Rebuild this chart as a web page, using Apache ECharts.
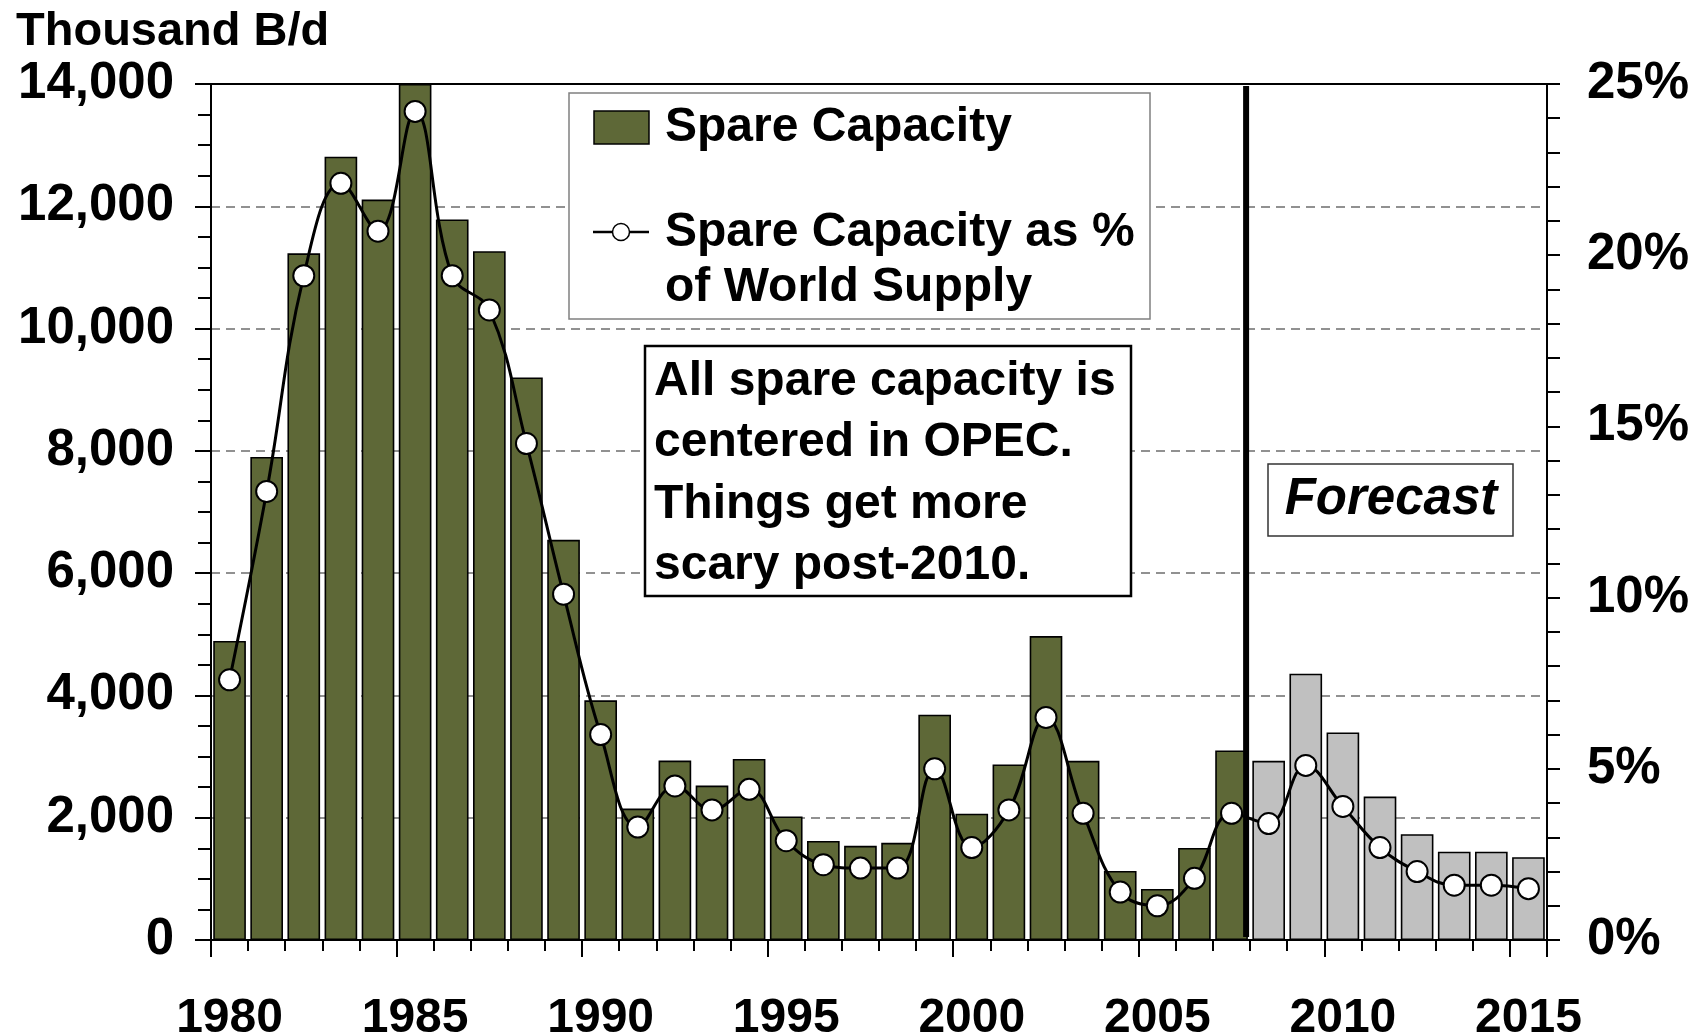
<!DOCTYPE html>
<html>
<head>
<meta charset="utf-8">
<title>Spare Capacity</title>
<script src="https://cdn.jsdelivr.net/npm/echarts@6/dist/echarts.min.js"></script>
<style>
  html, body { margin: 0; padding: 0; background: #fff; }
  #chart { width: 1696px; height: 1033px; }
</style>
</head>
<body>
<div id="chart"></div>
<script>
const years = ['1980', '1981', '1982', '1983', '1984', '1985', '1986', '1987', '1988', '1989',
  '1990', '1991', '1992', '1993', '1994', '1995', '1996', '1997', '1998', '1999',
  '2000', '2001', '2002', '2003', '2004', '2005', '2006', '2007', '2008', '2009',
  '2010', '2011', '2012', '2013', '2014', '2015'];

// thousand barrels per day
const spareCapacity = [4890, 7900, 11230, 12810, 12110, 14000, 11785, 11265, 9200, 6545,
  3920, 2150, 2935, 2525, 2960, 2020, 1620, 1540, 1590, 3685,
  2065, 2870, 4970, 2930, 1130, 835, 1505, 3100, 2930, 4355,
  3395, 2345, 1730, 1445, 1445, 1355];

// spare capacity as % of world supply
const sharePct = [7.6, 13.1, 19.4, 22.1, 20.7, 24.2, 19.4, 18.4, 14.5, 10.1,
  6.0, 3.3, 4.5, 3.8, 4.4, 2.9, 2.2, 2.1, 2.1, 5.0,
  2.7, 3.8, 6.5, 3.7, 1.4, 1.0, 1.8, 3.7, 3.4, 5.1,
  3.9, 2.7, 2.0, 1.6, 1.6, 1.5];

const lastActualYear = '2007';
const leftTicks = { min: 0, max: 14000, step: 2000 };
const rightTicks = { min: 0, max: 25, step: 5 };
const noteLines = ['All spare capacity is', 'centered in OPEC.', 'Things get more', 'scary post-2010.'];

const FONT = '"Liberation Sans", Arial, sans-serif';
const OLIVE = '#5e6837';
const GREY = '#c0c0c0';

const chart = echarts.init(document.getElementById('chart'));

function commas(v) {
  return String(v).replace(/\B(?=(\d{3})+(?!\d))/g, ',');
}

const axisBlack = { color: '#000', width: 2 };

chart.setOption({
  animation: false,
  grid: {
    left: 211, right: 149, top: 84, bottom: 93,
    outerBoundsMode: 'none',
    containLabel: false,
    show: true, borderColor: '#000', borderWidth: 2, backgroundColor: 'transparent'
  },
  xAxis: [
    {
      type: 'category',
      position: 'bottom',
      data: years,
      axisLine: { show: true, lineStyle: axisBlack },
      axisTick: { show: true, interval: 0, length: 11, lineStyle: axisBlack },
      axisLabel: {
        interval: 4, margin: 55, color: '#000',
        fontSize: 48, fontWeight: 'bold', fontFamily: FONT
      },
      splitLine: { show: false }
    },
    {
      // longer ticks every five years
      type: 'category',
      position: 'bottom',
      data: years,
      axisLine: { show: false },
      axisTick: { show: true, interval: 4, length: 17, lineStyle: axisBlack },
      axisLabel: { show: false },
      splitLine: { show: false }
    }
  ],
  yAxis: [
    {
      type: 'value',
      position: 'left',
      min: leftTicks.min, max: leftTicks.max, interval: leftTicks.step,
      axisLine: { show: true, lineStyle: axisBlack },
      axisTick: { show: true, length: 16, lineStyle: axisBlack },
      minorTick: { show: true, splitNumber: 4, length: 13, lineStyle: axisBlack },
      axisLabel: {
        margin: 37, color: '#000', fontSize: 51, fontWeight: 'bold', fontFamily: FONT,
        formatter: commas
      },
      splitLine: {
        show: true, showMinLine: false, showMaxLine: false,
        lineStyle: { color: '#6e6e6e', width: 1.6, type: [9, 6] }
      }
    },
    {
      type: 'value',
      position: 'right',
      min: rightTicks.min, max: rightTicks.max, interval: rightTicks.step,
      axisLine: { show: true, lineStyle: axisBlack },
      axisTick: { show: true, length: 13, lineStyle: axisBlack },
      minorTick: { show: true, splitNumber: 5, length: 13, lineStyle: axisBlack },
      axisLabel: {
        margin: 40, color: '#000', fontSize: 51, fontWeight: 'bold', fontFamily: FONT,
        formatter: '{value}%'
      },
      splitLine: { show: false }
    }
  ],
  series: [
    {
      name: 'Spare Capacity',
      type: 'bar',
      xAxisIndex: 0,
      yAxisIndex: 0,
      barCategoryGap: '12%',
      z: 2,
      data: spareCapacity.map((v, i) => ({
        value: v,
        itemStyle: {
          color: years[i] > lastActualYear ? GREY : OLIVE,
          borderColor: '#000',
          borderWidth: 1.6
        }
      }))
    },
    {
      name: 'Spare Capacity as % of World Supply',
      type: 'line',
      xAxisIndex: 0,
      yAxisIndex: 1,
      smooth: 0.4,
      z: 5,
      symbol: 'circle',
      symbolSize: 21,
      lineStyle: { color: '#000', width: 3 },
      itemStyle: { color: '#fff', borderColor: '#000', borderWidth: 2 },
      data: sharePct
    }
  ]
});

// forecast divider sits on the boundary between the last actual year and the first forecast
const xLast = chart.convertToPixel({ xAxisIndex: 0 }, lastActualYear);
const xNext = chart.convertToPixel({ xAxisIndex: 0 }, years[years.indexOf(lastActualYear) + 1]);
const divX = (xLast + xNext) / 2 - 4;

const bold = (size) => ({ fontSize: size, fontWeight: 'bold', fontFamily: FONT, fill: '#000' });

chart.setOption({
  graphic: [
    {
      type: 'text', left: 16, top: 9, z: 20,
      style: Object.assign({ text: 'Thousand B/d' }, bold(47))
    },
    {
      type: 'line', z: 12,
      shape: { x1: divX, y1: 86, x2: divX, y2: 937 },
      style: { stroke: '#000', lineWidth: 6 }
    },
    {
      type: 'group', z: 20,
      children: [
        {
          type: 'rect', shape: { x: 569, y: 93, width: 581, height: 226 },
          style: { fill: '#fff', stroke: '#808080', lineWidth: 1.5 }
        },
        {
          type: 'rect', shape: { x: 594, y: 111, width: 55, height: 33 },
          style: { fill: OLIVE, stroke: '#000', lineWidth: 1.5 }
        },
        {
          type: 'text', x: 665, y: 128,
          style: Object.assign({ text: 'Spare Capacity', verticalAlign: 'middle' }, bold(48))
        },
        {
          type: 'line', shape: { x1: 593, y1: 232, x2: 649, y2: 232 },
          style: { stroke: '#000', lineWidth: 2.5 }
        },
        {
          type: 'circle', shape: { cx: 621, cy: 232, r: 8.5 },
          style: { fill: '#fff', stroke: '#000', lineWidth: 1.5 }
        },
        {
          type: 'text', x: 665, y: 233,
          style: Object.assign({ text: 'Spare Capacity as %', verticalAlign: 'middle' }, bold(48))
        },
        {
          type: 'text', x: 665, y: 288,
          style: Object.assign({ text: 'of World Supply', verticalAlign: 'middle' }, bold(48))
        }
      ]
    },
    {
      type: 'group', z: 20,
      children: [
        {
          type: 'rect', shape: { x: 645, y: 346, width: 486, height: 250 },
          style: { fill: '#fff', stroke: '#000', lineWidth: 2.5 }
        },
        {
          type: 'text', x: 654, y: 474,
          style: Object.assign({
            text: noteLines.join('\n'), verticalAlign: 'middle', lineHeight: 61.5
          }, bold(48))
        }
      ]
    },
    {
      type: 'group', z: 20,
      children: [
        {
          type: 'rect', shape: { x: 1268, y: 464, width: 245, height: 72 },
          style: { fill: '#fff', stroke: '#333', lineWidth: 1.5 }
        },
        {
          type: 'text', x: 1391, y: 500,
          style: Object.assign({
            text: 'Forecast', align: 'center', verticalAlign: 'middle', fontStyle: 'italic'
          }, bold(51))
        }
      ]
    }
  ]
});

window.addEventListener('resize', function () {
  chart.resize();
});
</script>
</body>
</html>
